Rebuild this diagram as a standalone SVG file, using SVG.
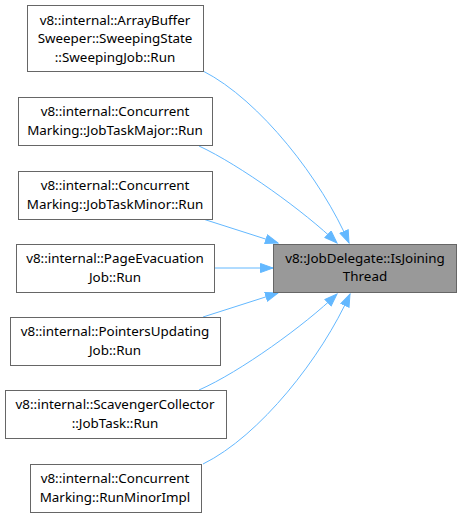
<svg xmlns="http://www.w3.org/2000/svg" width="461" height="518" viewBox="0 0 461 518">
<style>
.n rect{fill:#fff;stroke:#666;stroke-width:1}
.t rect{fill:#999;stroke:#666;stroke-width:1}
text{font-family:"Noto Sans",sans-serif;font-size:13.4px;fill:#000;text-anchor:middle}
.e path{fill:none;stroke:#63b8ff;stroke-width:1}
</style>
<defs>
<marker id="a" markerUnits="userSpaceOnUse" markerWidth="14" markerHeight="11" refX="13" refY="5" orient="auto">
<polygon points="0.5,0.5 13,5 0.5,9.5" fill="#63b8ff" stroke="#63b8ff" stroke-width="1"/>
</marker>
</defs>
<g class="e">
<path d="M203,71 C260,100 322,180 349,243" marker-end="url(#a)"/>
<path d="M199,146 C240,165 305,212 337,243" marker-end="url(#a)"/>
<path d="M203,219 L278,243" marker-end="url(#a)"/>
<path d="M214,268 L273,268" marker-end="url(#a)"/>
<path d="M203,317 L278,293" marker-end="url(#a)"/>
<path d="M199,390 C240,372 305,325 337,294" marker-end="url(#a)"/>
<path d="M203,464 C260,436 322,357 350,294" marker-end="url(#a)"/>
</g>
<g id="target" class="t">
<rect x="273.5" y="244.5" width="183" height="48"/>
<text x="365" y="263">v8::JobDelegate::IsJoining</text>
<text x="365" y="281">Thread</text>
</g>
<g id="n1" class="n">
<rect x="27.5" y="5.5" width="176" height="66"/>
<text x="115" y="25">v8::internal::ArrayBuffer</text>
<text x="115" y="43">Sweeper::SweepingState</text>
<text x="115" y="62">::SweepingJob::Run</text>
</g>
<g id="n2" class="n">
<rect x="18.5" y="97.5" width="194" height="48"/>
<text x="115" y="116">v8::internal::Concurrent</text>
<text x="115" y="135">Marking::JobTaskMajor::Run</text>
</g>
<g id="n3" class="n">
<rect x="18.5" y="171.5" width="194" height="48"/>
<text x="115" y="190">v8::internal::Concurrent</text>
<text x="115" y="209">Marking::JobTaskMinor::Run</text>
</g>
<g id="n4" class="n">
<rect x="16.5" y="244.5" width="198" height="48"/>
<text x="115" y="263">v8::internal::PageEvacuation</text>
<text x="115" y="282">Job::Run</text>
</g>
<g id="n5" class="n">
<rect x="10.5" y="317.5" width="210" height="48"/>
<text x="115" y="336">v8::internal::PointersUpdating</text>
<text x="115" y="355">Job::Run</text>
</g>
<g id="n6" class="n">
<rect x="5.5" y="390.5" width="221" height="48"/>
<text x="115" y="409">v8::internal::ScavengerCollector</text>
<text x="115" y="428">::JobTask::Run</text>
</g>
<g id="n7" class="n">
<rect x="30.5" y="464.5" width="171" height="48"/>
<text x="115" y="483">v8::internal::Concurrent</text>
<text x="115" y="502">Marking::RunMinorImpl</text>
</g>
</svg>
